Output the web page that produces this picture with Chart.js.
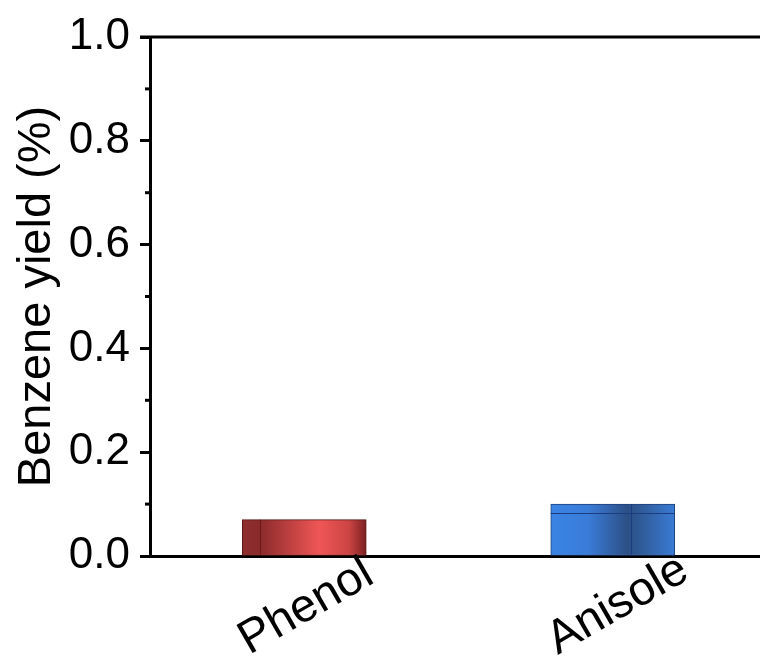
<!DOCTYPE html>
<html>
<head>
<meta charset="utf-8">
<script src="https://cdn.jsdelivr.net/npm/chart.js@4/dist/chart.umd.min.js"></script>
<style>
  html, body { margin: 0; padding: 0; background: #fff; }
  #wrap { width: 760px; height: 660px; }
</style>
</head>
<body>
<div id="wrap"><canvas id="c" width="760" height="660"></canvas></div>
<script>
const categories = ["Phenol", "Anisole"];
const yields = [0.07, 0.10];
const yTicks = [0, 0.2, 0.4, 0.6, 0.8, 1.0];

// bar shading, left to right
const shades = [
  { stops: [[0, "#8e2e2e"], [0.14, "#8a2a2a"], [0.62, "#f05656"], [0.86, "#cc4444"], [1, "#7a2020"]],
    line: "#6a1818", edge: "#5a1515", split: 0.14 },
  { stops: [[0, "#3a84e4"], [0.3, "#3a7cd8"], [0.62, "#2c4f85"], [0.72, "#2f5a96"], [1, "#3a7bd5"]],
    line: "#1c3c80", edge: "#1f3f7a", split: 0.645 }
];
const barW = 124;
const font = "'Liberation Sans', Arial, sans-serif";

function barFill(ctx) {
  const chart = ctx.chart;
  const s = shades[ctx.dataIndex];
  if (!chart.chartArea) return s.stops[2][1];
  const cx = chart.scales.x.getPixelForValue(ctx.dataIndex);
  const g = chart.ctx.createLinearGradient(cx - barW / 2, 0, cx + barW / 2, 0);
  s.stops.forEach(([p, c]) => g.addColorStop(p, c));
  return g;
}

const extras = {
  id: "extras",
  afterLayout(chart) {
    // x axis runs a little past the right edge of the canvas
    const xs = chart.scales.x;
    xs.right += 7;
    xs.width += 7;
    xs.configure();
  },
  afterDatasetsDraw(chart) {
    const c = chart.ctx;
    chart.getDatasetMeta(0).data.forEach((bar, i) => {
      const s = shades[i];
      const left = bar.x - bar.width / 2;
      c.save();
      c.strokeStyle = s.line;
      c.lineWidth = 1;
      const sx = Math.round(left + bar.width * s.split) + 0.5;
      c.beginPath();
      c.moveTo(sx, bar.y);
      c.lineTo(sx, bar.base);
      c.stroke();
      if (i === 1) {
        c.beginPath();
        c.moveTo(left, Math.round(bar.y + 9) + 0.5);
        c.lineTo(left + bar.width, Math.round(bar.y + 9) + 0.5);
        c.stroke();
      }
      c.restore();
    });
  },
  afterDraw(chart) {
    const c = chart.ctx;
    const y = chart.scales.y;
    const x = chart.scales.x;
    const area = chart.chartArea;
    c.save();
    // top frame line
    c.strokeStyle = "#000";
    c.lineWidth = 3;
    c.beginPath();
    c.moveTo(area.left - 10, area.top);
    c.lineTo(chart.width, area.top);
    c.stroke();
    // minor ticks
    for (let k = 0; k < yTicks.length - 1; k++) {
      const py = y.getPixelForValue((yTicks[k] + yTicks[k + 1]) / 2);
      c.beginPath();
      c.moveTo(area.left - 5, py);
      c.lineTo(area.left, py);
      c.stroke();
    }
    // rotated category labels
    c.fillStyle = "#000";
    c.font = "47px " + font;
    c.textAlign = "left";
    c.textBaseline = "alphabetic";
    categories.forEach((name, i) => {
      const px = x.getPixelForValue(i);
      c.save();
      c.translate(px - 55, area.bottom + 99);
      c.rotate(-Math.PI / 6);
      c.fillText(name, 0, 0);
      c.restore();
    });
    c.restore();
  }
};

new Chart(document.getElementById("c"), {
  type: "bar",
  data: {
    labels: categories,
    datasets: [{
      data: yields,
      backgroundColor: barFill,
      borderColor: shades.map(s => s.edge),
      borderWidth: 1,
      borderSkipped: false,
      barThickness: barW
    }]
  },
  options: {
    responsive: false,
    animation: false,
    devicePixelRatio: 1,
    layout: { padding: { top: 37, right: 0, bottom: 96, left: 0 } },
    plugins: { legend: { display: false }, tooltip: { enabled: false } },
    scales: {
      x: {
        grid: { display: false },
        ticks: { display: false },
        border: { display: true, color: "#000", width: 3 }
      },
      y: {
        min: 0,
        max: 1,
        afterBuildTicks(scale) {
          scale.ticks = yTicks.map(v => ({ value: v }));
        },
        afterFit(scale) { scale.width = 150; },
        ticks: {
          color: "#000",
          padding: 10,
          font: { family: font, size: 44 },
          callback: v => v.toFixed(1)
        },
        grid: {
          drawOnChartArea: false,
          drawTicks: true,
          tickLength: 10,
          tickWidth: 3,
          tickColor: "#000"
        },
        border: { display: true, color: "#000", width: 3 },
        title: {
          display: true,
          text: "Benzene yield (%)",
          color: "#000",
          font: { family: font, size: 47 },
          padding: { top: 9, bottom: 0 }
        }
      }
    }
  },
  plugins: [extras]
});
</script>
</body>
</html>
